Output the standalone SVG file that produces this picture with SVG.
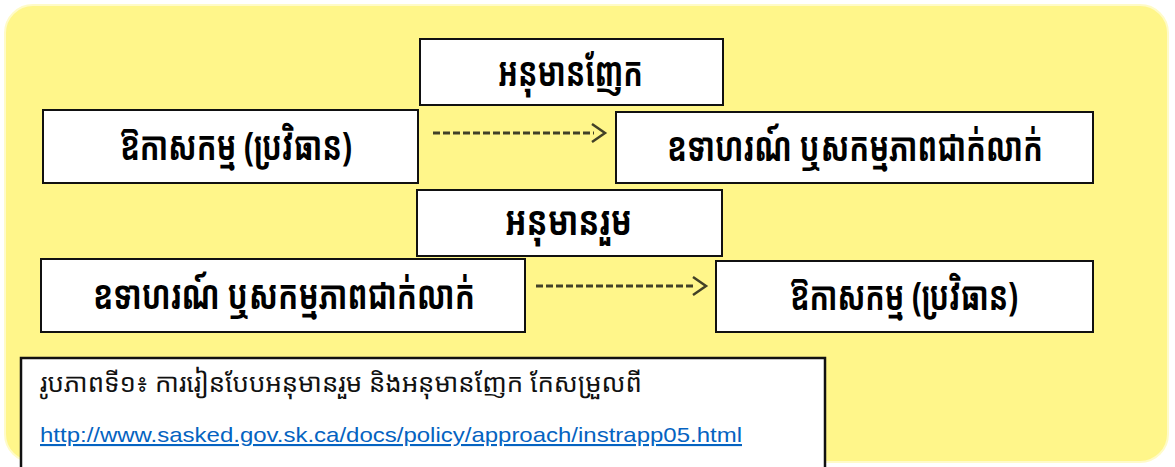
<svg xmlns="http://www.w3.org/2000/svg" width="1175" height="467" viewBox="0 0 1175 467">
<defs>
<style>
.box{fill:#fff;stroke:#111;stroke-width:2}
.lbl{font-family:"Noto Sans Khmer","Khmer OS","Khmer OS System","Noto Sans",sans-serif;font-size:40px;font-weight:bold;fill:#000}
.cap{font-family:"Noto Sans Khmer","Khmer OS","Khmer OS System","Noto Sans",sans-serif;font-size:26px;fill:#111}
.link{font-family:"Liberation Sans",Arial,sans-serif;font-size:21px;fill:#0563C1;text-decoration:underline}
.dash{fill:none;stroke:#424127;stroke-width:3;stroke-dasharray:7 3}
.head{fill:none;stroke:#424127;stroke-width:2.5}
</style>
</defs>
<rect x="5" y="5" width="1163" height="457" rx="28" ry="28" fill="#FFF68A" stroke="#FFFBC8" stroke-width="2"/>
<g id="connectors">
<line class="dash" x1="433" y1="133" x2="594" y2="133"/>
<polyline class="head" points="592,124 605,133 592,142"/>
<line class="dash" x1="536" y1="286" x2="694" y2="286"/>
<polyline class="head" points="693,277 706,286 693,295"/>
</g>
<g id="node-deductive">
<rect class="box" x="420" y="39" width="303" height="66"/>
<text class="lbl" x="498" y="86" textLength="145" lengthAdjust="spacingAndGlyphs">អនុមានញែក</text>
</g>
<g id="node-rule-top">
<rect class="box" x="43" y="110" width="375" height="73"/>
<text class="lbl" x="120" y="160" textLength="232" lengthAdjust="spacingAndGlyphs">ឱកាសកម្ម (ប្រវិធាន)</text>
</g>
<g id="node-example-top">
<rect class="box" x="616" y="112" width="477" height="71"/>
<text class="lbl" x="667" y="161" textLength="376" lengthAdjust="spacingAndGlyphs">ឧទាហរណ៍ ឬសកម្មភាពជាក់លាក់</text>
</g>
<g id="node-inductive">
<rect class="box" x="417" y="190" width="305" height="66"/>
<text class="lbl" x="505" y="235" textLength="127" lengthAdjust="spacingAndGlyphs">អនុមានរួម</text>
</g>
<g id="node-example-bottom">
<rect class="box" x="41" y="259" width="484" height="73"/>
<text class="lbl" x="93" y="309" textLength="382" lengthAdjust="spacingAndGlyphs">ឧទាហរណ៍ ឬសកម្មភាពជាក់លាក់</text>
</g>
<g id="node-rule-bottom">
<rect class="box" x="716" y="261" width="377" height="71"/>
<text class="lbl" x="790" y="310" textLength="228" lengthAdjust="spacingAndGlyphs">ឱកាសកម្ម (ប្រវិធាន)</text>
</g>
<g id="caption">
<rect x="21" y="358" width="804" height="112" fill="#fff" stroke="#111" stroke-width="2.5"/>
<text class="cap" x="40" y="392" textLength="602" lengthAdjust="spacingAndGlyphs">រូបភាពទី១៖ ការរៀនបែបអនុមានរួម និងអនុមានញែក កែសម្រួលពី</text>
<text class="link" x="40" y="442" textLength="702" lengthAdjust="spacingAndGlyphs">http://www.sasked.gov.sk.ca/docs/policy/approach/instrapp05.html</text>
</g>
</svg>
